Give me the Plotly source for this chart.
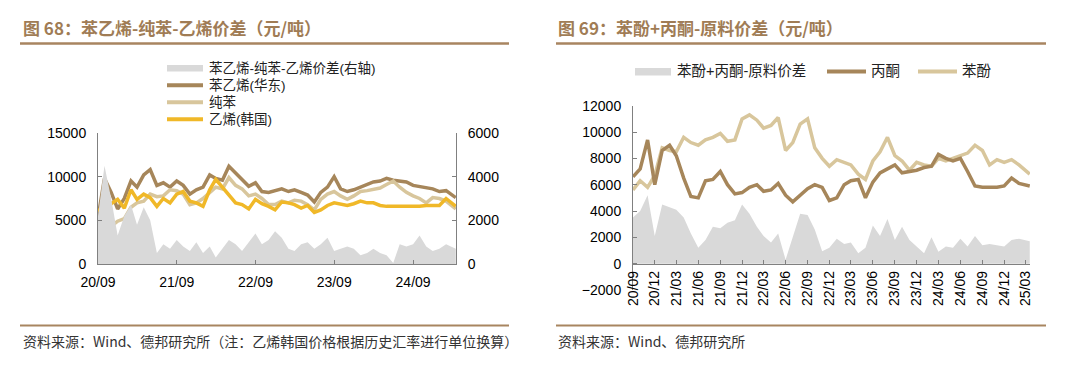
import plotly.graph_objects as go
import pandas as pd

W, H = 1080, 372

# ---------------- Left chart data (monthly, 2020-09 .. 2025-03) ----------------
left_dates = list(pd.date_range("2020-09-01", "2025-02-01", freq="MS")) + [pd.Timestamp("2025-03-18")]

styrene = [5300, 9800, 8200, 6300, 7500, 9500, 8800, 10200, 10800, 9000,
           9300, 8800, 9500, 9000, 8000, 8500, 8800, 10200, 9800, 9600,
           11200, 10400, 9600, 8900, 9300, 8300, 8200, 8400, 8600, 8300,
           8500, 8200, 7900, 7100, 8200, 8800, 10000, 8600, 8300, 8500,
           8800, 9200, 9400, 9500, 9800, 9600, 9500, 9400, 9000, 8900,
           8800, 8600, 8300, 8400, 7600]
benzene = [3500, 3700, 4300, 4900, 5200, 6500, 7000, 7200, 8000, 7700,
           7800, 8500, 8400, 8000, 6800, 7000, 7500, 8200, 8800, 8600,
           9900, 9000, 8600, 7800, 8000, 7500, 6800, 6800, 7200, 7000,
           7300, 7200, 6800, 6200, 7400, 8000, 8300, 7800, 7400, 7800,
           8300, 8400, 8500, 8700, 9100, 9500, 8800, 8200, 7800, 7500,
           7000, 7600, 7500, 7200, 6300]
ethylene = [6300, 5700, 6900, 7400, 6400, 8500, 7400, 8000, 7600, 6600,
            7500, 7000, 8000, 8300, 7200, 7000, 6600, 8500, 9700, 8800,
            8000, 7000, 6800, 6300, 7400, 6900, 6600, 6200, 7100, 7000,
            6800, 6400, 6700, 5900, 6200, 6700, 7000, 6900, 6700, 6900,
            7200, 7000, 7000, 6700, 6600, 6600, 6600, 6500, 6600, 6600,
            6700, 6700, 6700, 7500, 6600]
styrene_spread = [2200, 4500, 3000, 1300, 2200, 2700, 1800, 2600, 2000, 500,
                  900, 700, 1100, 800, 600, 1000, 500, 800, 300, 700,
                  1100, 900, 600, 1000, 1400, 900, 1100, 1500, 1200, 700,
                  600, 900, 1000, 700, 900, 1200, 600, 700, 800, 700,
                  400, 500, 700, 500, 400, 50, 900, 800, 900, 1300,
                  800, 600, 700, 900, 700]
left_names = ["苯乙烯-纯苯-乙烯价差(右轴)", "苯乙烯(华东)", "纯苯", "乙烯(韩国)"]

# ---------------- Right chart data (monthly, 2020-09 .. 2025-03) ----------------
right_dates = list(pd.date_range("2020-09-01", "2025-02-01", freq="MS")) + [pd.Timestamp("2025-03-18")]

acetone = [6600, 7200, 9400, 6000, 8600, 9000, 8200, 6500, 5100, 5000,
           6300, 6400, 7000, 6000, 5300, 5400, 5800, 6000, 5500, 5600,
           6100, 5200, 4700, 5200, 5700, 6000, 5800, 4800, 5000, 6000,
           6300, 6400, 5000, 6200, 6900, 7200, 7500, 6900, 7000, 7100,
           7300, 7400, 8300, 8000, 7800, 8000, 7000, 5900, 5800, 5800,
           5800, 5900, 6500, 6100, 5900]
phenol = [5600, 6300, 5800, 6700, 8800, 8600, 8500, 9600, 9200, 9000,
          9400, 9600, 9900, 9300, 9400, 11000, 11300, 10900, 10300, 10500,
          11100, 8600, 9200, 10600, 11000, 8800, 8000, 7400, 7900, 7700,
          7500, 6800, 6400, 7800, 8500, 9600, 8200, 7800, 7100, 7700,
          7500, 7400, 8000, 7800, 8000, 8200, 8400, 9000, 8600, 7500,
          7900, 7700, 7900, 7500, 6800]
phenol_spread = [3500, 4000, 5200, 2100, 4500, 4300, 4100, 3500, 2300, 1200,
                 1800, 2800, 2700, 3100, 3300, 4500, 3800, 2800, 2100, 1600,
                 2300, 300, 2100, 3800, 3700, 2600, 950, 1200, 1900, 1500,
                 1600, 800, 1200, 2900, 2100, 3400, 1800, 2800, 1800, 1300,
                 800, 2000, 900, 1300, 1200, 1900, 1300, 2100, 1400, 1500,
                 1400, 1300, 1800, 1900, 1700]
right_names = ["苯酚+丙酮-原料价差", "丙酮", "苯酚"]

# ---------------- styling ----------------
BROWN = "#a6865a"
TAN = "#d8c69c"
YELLOW = "#f0b828"
GREY = "#d9d9d9"
TITLE_C = "#a07c55"
RULE_C = "#a88560"
AXIS_C = "#808080"
CJK = "Noto Sans CJK SC"
MIX = "Liberation Sans, Noto Sans CJK SC"
NUM = "Liberation Sans, Arial, sans-serif"


def px_x(p):
    return p / W


def px_y(p):
    return 1 - p / H


fig = go.Figure()

# Left chart traces
fig.add_trace(go.Scatter(x=left_dates, y=styrene_spread, name=left_names[0],
                         mode="lines", fill="tozeroy", fillcolor=GREY,
                         line=dict(width=0, color=GREY), xaxis="x", yaxis="y2"))
fig.add_trace(go.Scatter(x=left_dates, y=styrene, name=left_names[1], mode="lines",
                         line=dict(width=3.5, color=BROWN), xaxis="x", yaxis="y"))
fig.add_trace(go.Scatter(x=left_dates, y=benzene, name=left_names[2], mode="lines",
                         line=dict(width=3.5, color=TAN), xaxis="x", yaxis="y"))
fig.add_trace(go.Scatter(x=left_dates, y=ethylene, name=left_names[3], mode="lines",
                         line=dict(width=3.5, color=YELLOW), xaxis="x", yaxis="y"))

# Right chart traces
fig.add_trace(go.Scatter(x=right_dates, y=phenol_spread, name=right_names[0],
                         mode="lines", fill="tozeroy", fillcolor=GREY,
                         line=dict(width=0, color=GREY), xaxis="x3", yaxis="y3"))
fig.add_trace(go.Scatter(x=right_dates, y=phenol, name=right_names[2], mode="lines",
                         line=dict(width=3.5, color=TAN), xaxis="x3", yaxis="y3"))
fig.add_trace(go.Scatter(x=right_dates, y=acetone, name=right_names[1], mode="lines",
                         line=dict(width=3.5, color=BROWN), xaxis="x3", yaxis="y3"))

axis_common = dict(showline=True, linecolor=AXIS_C, linewidth=1, showgrid=False, zeroline=False,
                   ticks="inside", ticklen=4, tickcolor=AXIS_C, automargin=False,
                   tickfont=dict(family=NUM, size=14, color="#000000"))

fig.update_layout(
    template="none",
    width=W, height=H, autosize=False,
    margin=dict(l=0, r=0, t=0, b=0, pad=0),
    paper_bgcolor="white", plot_bgcolor="rgba(0,0,0,0)",
    font=dict(family=CJK, size=13, color="#222222"),
    showlegend=False,
    xaxis=dict(domain=[px_x(98), px_x(456)], anchor="y", type="date",
               range=["2020-09-01", "2025-03-19"], tick0="2020-09-01", dtick="M12",
               tickformat="%y/%m", ticklabelstandoff=5, **axis_common),
    yaxis=dict(domain=[px_y(264), px_y(133)], anchor="x", range=[0, 15000], dtick=5000,
               tickformat="d", ticklabelstandoff=8, **axis_common),
    yaxis2=dict(overlaying="y", side="right", anchor="x", range=[0, 6000], dtick=2000,
                tickformat="d", ticklabelstandoff=8, **axis_common),
    xaxis3=dict(domain=[px_x(633), px_x(1030)], anchor="free", position=px_y(264.3), type="date",
                range=["2020-09-01", "2025-03-19"], tick0="2020-09-01", dtick="M3",
                tickformat="%y/%m", tickangle=-90, **axis_common),
    yaxis3=dict(domain=[px_y(290), px_y(105.7)], anchor="x3", range=[-2000, 12000], dtick=2000,
                tickformat="d", ticklabelstandoff=8, **axis_common),
)

shapes = []
for x0, x1 in [(20, 509), (556, 1046)]:
    shapes.append(dict(type="line", xref="paper", yref="paper", x0=px_x(x0), x1=px_x(x1),
                       y0=px_y(43.5), y1=px_y(43.5), line=dict(color=RULE_C, width=2.5)))
    shapes.append(dict(type="line", xref="paper", yref="paper", x0=px_x(x0), x1=px_x(x1),
                       y0=px_y(325.5), y1=px_y(325.5), line=dict(color=RULE_C, width=2)))

# legend swatches (left chart, vertical)
LEG_ROWS = [68.3, 85.3, 102.3, 119.3]
shapes.append(dict(type="rect", xref="paper", yref="paper", x0=px_x(167), x1=px_x(203),
                   y0=px_y(LEG_ROWS[0] + 3.3), y1=px_y(LEG_ROWS[0] - 3.3), fillcolor=GREY,
                   line=dict(width=0)))
for yy, col in zip(LEG_ROWS[1:], [BROWN, TAN, YELLOW]):
    shapes.append(dict(type="line", xref="paper", yref="paper", x0=px_x(167), x1=px_x(203),
                       y0=px_y(yy), y1=px_y(yy), line=dict(color=col, width=4)))
# legend swatches (right chart, horizontal)
shapes.append(dict(type="rect", xref="paper", yref="paper", x0=px_x(635), x1=px_x(671),
                   y0=px_y(75.5), y1=px_y(68), fillcolor=GREY, line=dict(width=0)))
for x0, col in [(827, BROWN), (918, TAN)]:
    shapes.append(dict(type="line", xref="paper", yref="paper", x0=px_x(x0), x1=px_x(x0 + 39),
                       y0=px_y(71.5), y1=px_y(71.5), line=dict(color=col, width=4)))
fig.update_layout(shapes=shapes)

annotations = [
    dict(text="<b>图 68：苯乙烯-纯苯-乙烯价差（元/吨）</b>", x=px_x(21), y=px_y(27),
         xanchor="left", yanchor="middle", font=dict(family=CJK, size=17, color=TITLE_C)),
    dict(text="<b>图 69：苯酚+丙酮-原料价差（元/吨）</b>", x=px_x(556), y=px_y(27),
         xanchor="left", yanchor="middle", font=dict(family=CJK, size=17, color=TITLE_C)),
    dict(text="资料来源：Wind、德邦研究所（注：乙烯韩国价格根据历史汇率进行单位换算）", x=px_x(21), y=px_y(341),
         xanchor="left", yanchor="middle", font=dict(family=CJK, size=14, color="#333333")),
    dict(text="资料来源：Wind、德邦研究所", x=px_x(556), y=px_y(341),
         xanchor="left", yanchor="middle", font=dict(family=CJK, size=14, color="#333333")),
]
for name, yy in zip(left_names, LEG_ROWS):
    annotations.append(dict(text=name, x=px_x(207), y=px_y(yy), xanchor="left", yanchor="middle",
                            font=dict(family=MIX, size=13.5, color="#222222")))
for name, xx in zip(right_names, [675, 869, 960]):
    annotations.append(dict(text=name, x=px_x(xx), y=px_y(71.5), xanchor="left", yanchor="middle",
                            font=dict(family=MIX, size=14.5, color="#222222")))
for a in annotations:
    a.update(xref="paper", yref="paper", showarrow=False)
fig.update_layout(annotations=annotations)

fig.write_html("out.html", config={"displayModeBar": False},
               post_script="document.body.style.margin='0px';")
